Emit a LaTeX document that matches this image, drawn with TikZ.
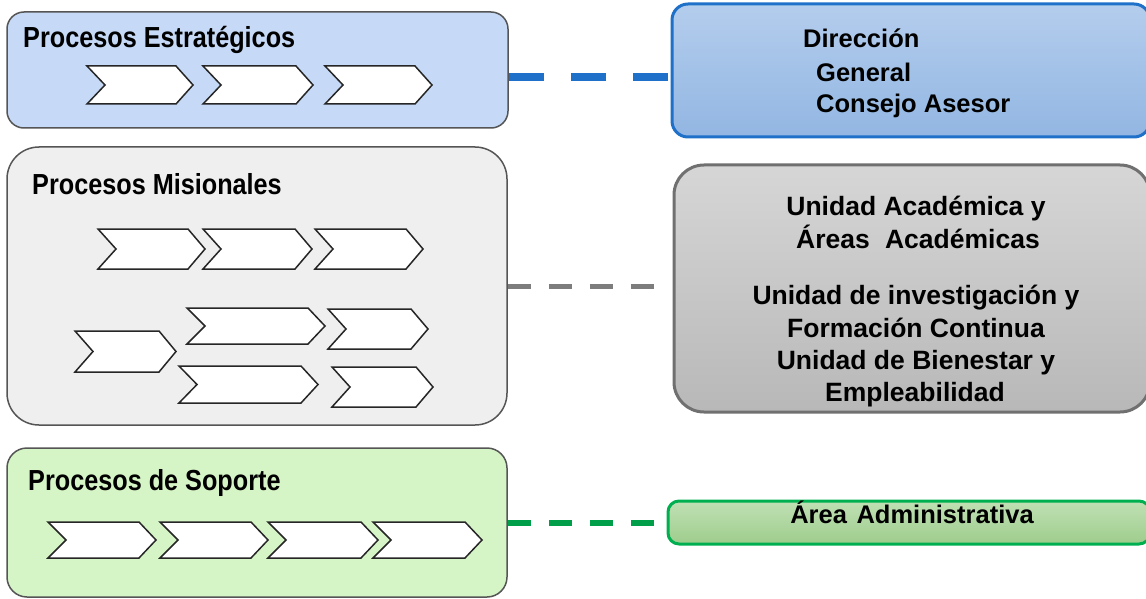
\documentclass[tikz,border=0pt]{standalone}
\usepackage{fontspec}
\setmainfont{Liberation Sans}
\newfontfamily\narrowfont[FakeStretch=0.87]{Liberation Sans}
\definecolor{lbfill}{RGB}{198,218,248}
\definecolor{lgfill}{RGB}{239,239,239}
\definecolor{lgrfill}{RGB}{214,245,198}
\definecolor{lborder}{RGB}{85,85,85}
\definecolor{bluetop}{RGB}{180,205,237}
\definecolor{bluebot}{RGB}{146,182,226}
\definecolor{blueline}{RGB}{30,112,200}
\definecolor{graytop}{RGB}{214,214,214}
\definecolor{graybot}{RGB}{184,184,184}
\definecolor{grayline}{RGB}{112,112,112}
\definecolor{greentop}{RGB}{192,224,180}
\definecolor{greenbot}{RGB}{158,205,140}
\definecolor{greenline}{RGB}{0,176,80}
\definecolor{dashgray}{RGB}{125,125,125}
\tikzset{
  leftbox/.style={draw=lborder, line width=1.5pt, inner sep=0pt},
  rightbox/.style={line width=3pt, inner sep=0pt},
  chevron/.style={draw=black!85, fill=white, line width=1.5pt, line join=miter},
  titletext/.style={anchor=base west, inner sep=0pt, font=\narrowfont\fontsize{29}{32}\selectfont\bfseries},
  rtext/.style={inner sep=0pt, font=\fontsize{26.5}{30}\selectfont\bfseries},
}
\newcommand\chev[4]{%
  \draw[chevron] (#1,#2) -- ({#3-17},#2) -- (#3,{(#2+#4)/2}) -- ({#3-17},#4)
    -- (#1,#4) -- ({#1+18},{(#2+#4)/2}) -- cycle;}
\begin{document}
\begin{tikzpicture}[x=1pt,y=-1pt]
\useasboundingbox (0,0) rectangle (1146,599);
\clip (0,0) rectangle (1146,599);
\fill[white] (0,0) rectangle (1146,599);

% left boxes
\node[leftbox, fill=lbfill, rounded corners=17pt, minimum width=501pt, minimum height=116pt] (lb1) at (257.5,70) {};
\node[leftbox, fill=lgfill, rounded corners=32pt, minimum width=500pt, minimum height=278pt] (lb2) at (257,286) {};
\node[leftbox, fill=lgrfill, rounded corners=20pt, minimum width=500pt, minimum height=149pt] (lb3) at (257,522.5) {};

\node[titletext] (t1) at (23,48) {Procesos Estratégicos};
\node[titletext] (t2) at (32,194) {Procesos Misionales};
\node[titletext] (t3) at (28,490) {Procesos de Soporte};

% chevrons: estrategicos
\chev{87}{66}{193}{104}
\chev{203}{66}{313}{104}
\chev{325}{66}{432}{104}
% misionales
\chev{98}{229}{205}{269}
\chev{203}{229}{312}{269}
\chev{315}{229}{423}{269}
\chev{75}{331}{176}{372}
\chev{187}{308}{325}{344}
\chev{328}{309}{428}{349}
\chev{179}{366}{318}{403}
\chev{332}{367}{433}{407}
% soporte
\chev{48}{522}{156}{558}
\chev{160}{522}{268}{558}
\chev{268}{522}{378}{558}
\chev{373}{522}{482}{558}

% right boxes
\node[rightbox, draw=blueline, top color=bluetop, bottom color=bluebot, rounded corners=16pt, minimum width=478pt, minimum height=133pt] (rb1) at (911,70.5) {};
\node[rightbox, draw=grayline, top color=graytop, bottom color=graybot, rounded corners=30pt, minimum width=476pt, minimum height=247pt] (rb2) at (912,288.5) {};
\node[rightbox, draw=greenline, top color=greentop, bottom color=greenbot, rounded corners=11pt, minimum width=482pt, minimum height=43pt] (rb3) at (909,522.5) {};

% right texts
\node[rtext, anchor=base west, font=\fontsize{25.5}{30}\selectfont\bfseries] (d1) at (803,48) {Dirección};
\node[rtext, anchor=base west, font=\fontsize{25.5}{30}\selectfont\bfseries] (d2) at (816,81.5) {General};
\node[rtext, anchor=base west, font=\fontsize{25.5}{30}\selectfont\bfseries] (d3) at (816,113) {Consejo Asesor};

\node[rtext, anchor=base] (m1) at (916,215) {Unidad Académica y};
\node[rtext, anchor=base] (m2) at (918,248) {Áreas\hspace{0.3em} Académicas};
\node[rtext, anchor=base] (m3) at (916,304) {Unidad de investigación y};
\node[rtext, anchor=base] (m4) at (916,337) {Formación Continua};
\node[rtext, anchor=base] (m5) at (916,369) {Unidad de Bienestar y};
\node[rtext, anchor=base] (m6) at (915,401) {Empleabilidad};

\node[rtext, anchor=base, font=\fontsize{25.5}{30}\selectfont\bfseries] (a1) at (912,523) {Área\hspace{0.1em} Administrativa};

% connectors
\draw[blueline, line width=8pt, dash pattern=on 35pt off 27pt] ([yshift=-7pt]lb1.east) -- ([yshift=-6.5pt]rb1.west);
\draw[dashgray, line width=5pt, dash pattern=on 23pt off 18pt, shorten >=18pt] (lb2.east) -- (lb2.east -| rb2.west);
\draw[greenline!90!black, line width=6pt, dash pattern=on 23pt off 18pt] (lb3.east) -- (rb3.west);
\end{tikzpicture}
\end{document}
